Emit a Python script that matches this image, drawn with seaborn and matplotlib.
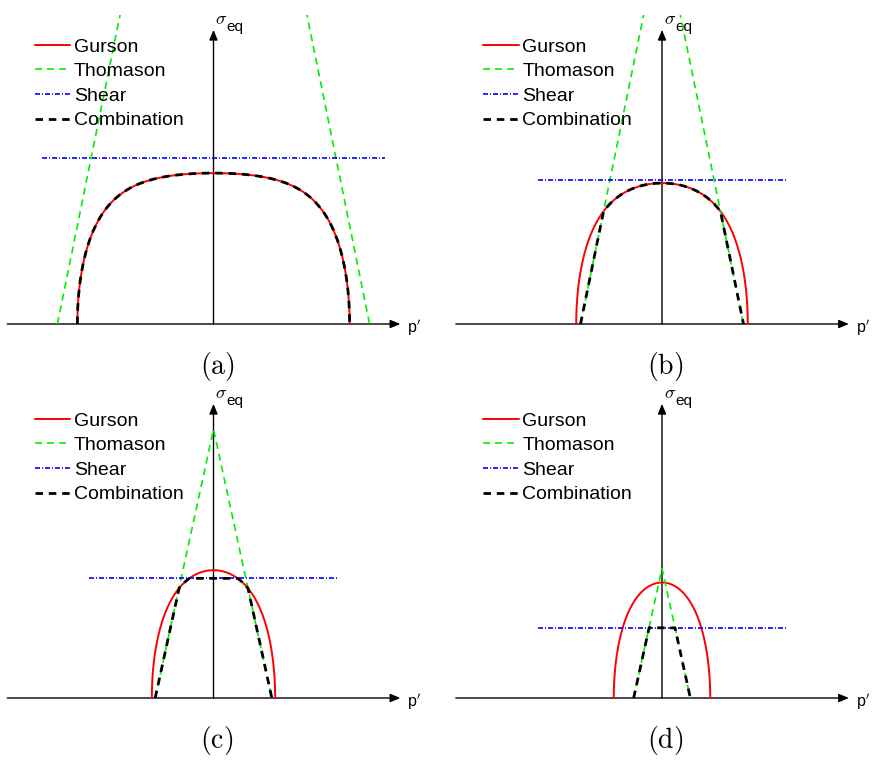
import numpy as np
import pandas as pd
import matplotlib
matplotlib.use("Agg")
import matplotlib.pyplot as plt
import seaborn as sns

# Yield-surface comparison for four void fractions (all stresses normalised by sigma_0)
panel_tags = ["(a)", "(b)", "(c)", "(d)"]
porosity = [0.02, 0.085, 0.17, 0.25]          # Gurson void volume fraction f
thomason_apex = [5.0, 2.59, 1.745, 0.842]      # Thomason limit at p' = 0
thomason_root = [2.99, 1.561, 1.117, 0.543]    # Thomason limit reaches zero here
shear_level = [1.078, 0.935, 0.777, 0.456]     # shear cut-off level
shear_reach = [3.28, 2.38, 2.38, 2.38]         # half-length of the shear line
series_names = ["Gurson", "Thomason", "Shear", "Combination"]

styles = {
    "Gurson": dict(color="#ff0000", lw=1.4, linestyle="-"),
    "Thomason": dict(color="#00ee00", lw=1.2, linestyle=(0, (4.2, 3.0))),
    "Shear": dict(color="#0000ff", lw=1.2, linestyle=(0, (3.0, 1.2, 0.6, 1.2))),
    "Combination": dict(color="black", lw=2.0, linestyle=(0, (2.7, 2.1))),
}


def gurson(p, f):
    return np.sqrt(np.clip(1.0 + f ** 2 - 2.0 * f * np.cosh(1.5 * p), 0.0, None))


def gurson_root(f):
    return (2.0 / 3.0) * np.arccosh((1.0 + f ** 2) / (2.0 * f))


def thomason(p, apex, root):
    return apex * (1.0 - np.abs(p) / root)


sns.set_theme(style="white")
plt.rcParams["font.family"] = ["Liberation Sans", "DejaVu Sans"]
plt.rcParams["mathtext.fontset"] = "cm"
plt.rcParams["text.color"] = "black"

W, H = 875, 765
fig = plt.figure(figsize=(W / 100, H / 100), dpi=100)

PX_X, PX_Y = 52.2, 154.0          # pixels per unit along p' and sigma_eq
ax_w, ax_h = 425, 330
origins = [(213.5, 324), (662, 324), (213.5, 698), (662, 698)]
x_tail, x_tip, y_tip = -3.95, 3.58, 1.91

theta = np.linspace(-np.pi / 2, np.pi / 2, 1601)

for i, tag in enumerate(panel_tags):
    ox, oy = origins[i]
    left, top = ox - 212, oy - 309
    ax = fig.add_axes([left / W, (H - (top + ax_h)) / H, ax_w / W, ax_h / H])
    ax.set_xlim(-212 / PX_X, 213 / PX_X)
    ax.set_ylim(-21 / PX_Y, 309 / PX_Y)
    ax.axis("off")

    head = "-|>,head_length=0.6,head_width=0.25"
    ax.annotate("", xy=(x_tip, 0), xytext=(x_tail, 0),
                arrowprops=dict(arrowstyle=head, color="black", lw=1.0,
                                shrinkA=0, shrinkB=0, mutation_scale=10), zorder=1)
    ax.annotate("", xy=(0, y_tip), xytext=(0, 0),
                arrowprops=dict(arrowstyle=head, color="black", lw=1.0,
                                shrinkA=0, shrinkB=0, mutation_scale=10), zorder=1)
    ax.annotate(r"$\sigma$", xy=(0, y_tip), xytext=(1.2, 7.5), textcoords="offset points",
                ha="left", va="center", fontsize=13)
    ax.annotate("eq", xy=(0, y_tip), xytext=(9.6, -0.7), textcoords="offset points",
                ha="left", va="baseline", fontsize=11)
    ax.annotate(r"p$'$", xy=(x_tip, 0), xytext=(5, -6.8), textcoords="offset points",
                ha="left", va="baseline", fontsize=11.5)
    ax.annotate(r"$\mathrm{" + tag + "}$", xy=(0, 0), xytext=(2.5, -30.6),
                textcoords="offset points", ha="center", va="center", fontsize=20)

    f = porosity[i]
    pg = gurson_root(f)
    pt = thomason_root[i]

    p_g = pg * np.sin(theta)
    p_t = np.array([-pt, 0.0, pt])
    p_s = np.array([-shear_reach[i], shear_reach[i]])
    pc_lim = min(pg, pt)
    p_c = pc_lim * np.sin(theta)
    comb = np.minimum.reduce([gurson(p_c, f),
                              np.clip(thomason(p_c, thomason_apex[i], pt), 0, None),
                              np.full_like(p_c, shear_level[i])])

    curves = {
        "Gurson": (p_g, gurson(p_g, f)),
        "Thomason": (p_t, thomason(p_t, thomason_apex[i], pt)),
        "Shear": (p_s, np.full_like(p_s, shear_level[i])),
        "Combination": (p_c, comb),
    }
    for name in series_names:
        px, sy = curves[name]
        df = pd.DataFrame({"p": px, "s": sy})
        sns.lineplot(data=df, x="p", y="s", ax=ax, label=name, sort=False,
                     estimator=None, zorder=3, **styles[name])

    ax.legend(loc="upper left", bbox_to_anchor=(33.5 / ax_w, 1 - 23 / ax_h),
              frameon=False, borderpad=0, borderaxespad=0, handlelength=1.8,
              handletextpad=0.2, labelspacing=0.36, fontsize=14)

fig.savefig("out.png", dpi=100)
